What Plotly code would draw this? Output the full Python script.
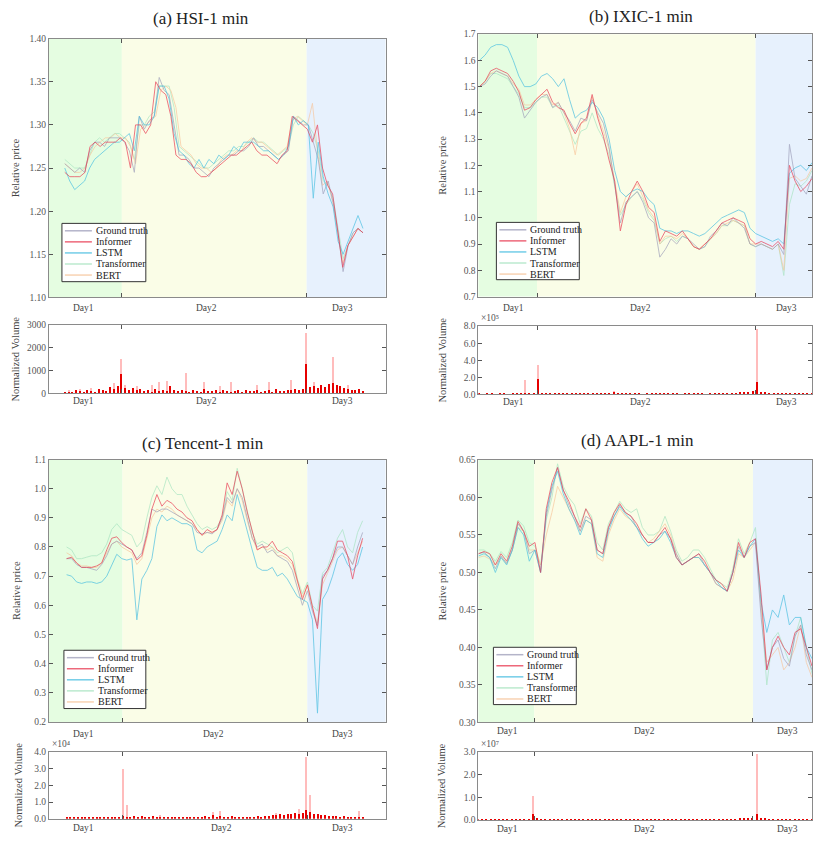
import numpy as np
import plotly.graph_objects as go

W, H = 813, 843
FONT = "Liberation Serif, Times New Roman, serif"

SERIES_NAMES = ["Ground truth", "Informer", "LSTM", "Transformer", "BERT"]
SERIES_COLORS = ["#9c9cb8", "#e8364e", "#45bde0", "#a6e3bf", "#f7c49a"]
DRAW_ORDER = [3, 4, 0, 2, 1]
DAY_LABELS = ["Day1", "Day2", "Day3"]

# ---------------- (a) HSI-1 min ----------------
hsi_truth = [1.255, 1.25, 1.245, 1.25, 1.245, 1.27, 1.28, 1.28, 1.275, 1.285,
             1.285, 1.285, 1.28, 1.27, 1.245, 1.31, 1.295, 1.305, 1.31, 1.355,
             1.34, 1.335, 1.30, 1.265, 1.265, 1.26, 1.25, 1.25, 1.245, 1.24,
             1.25, 1.255, 1.26, 1.265, 1.265, 1.27, 1.27, 1.275, 1.285, 1.275,
             1.275, 1.27, 1.265, 1.26, 1.265, 1.27, 1.31, 1.305, 1.30, 1.30,
             1.28, 1.26, 1.22, 1.235, 1.21, 1.175, 1.13, 1.16, 1.175, 1.18, 1.175]
hsi_informer = [1.245, 1.24, 1.24, 1.24, 1.245, 1.275, 1.28, 1.275, 1.28, 1.28,
                1.28, 1.285, 1.28, 1.25, 1.30, 1.30, 1.29, 1.30, 1.35, 1.34,
                1.335, 1.31, 1.265, 1.26, 1.26, 1.255, 1.245, 1.24, 1.24, 1.245,
                1.25, 1.255, 1.26, 1.265, 1.265, 1.27, 1.275, 1.28, 1.27, 1.265,
                1.265, 1.26, 1.255, 1.265, 1.27, 1.31, 1.305, 1.30, 1.295, 1.28,
                1.30, 1.25, 1.23, 1.22, 1.18, 1.135, 1.16, 1.17, 1.18, 1.175]
hsi_lstm = [1.25, 1.235, 1.225, 1.23, 1.235, 1.25, 1.26, 1.265, 1.27, 1.275,
            1.28, 1.28, 1.285, 1.29, 1.27, 1.31, 1.30, 1.30, 1.31, 1.345,
            1.345, 1.33, 1.29, 1.27, 1.265, 1.255, 1.25, 1.26, 1.25, 1.26,
            1.255, 1.265, 1.26, 1.265, 1.275, 1.27, 1.28, 1.28, 1.28, 1.275,
            1.27, 1.27, 1.265, 1.26, 1.265, 1.275, 1.31, 1.30, 1.305, 1.30,
            1.215, 1.28, 1.24, 1.22, 1.205, 1.165, 1.15, 1.165, 1.18, 1.195, 1.18]
hsi_transformer = [1.26, 1.255, 1.25, 1.25, 1.25, 1.265, 1.28, 1.285, 1.28, 1.285,
                   1.29, 1.29, 1.285, 1.28, 1.26, 1.30, 1.30, 1.31, 1.315, 1.345,
                   1.345, 1.345, 1.32, 1.275, 1.27, 1.265, 1.26, 1.255, 1.25, 1.25,
                   1.255, 1.26, 1.265, 1.27, 1.27, 1.275, 1.275, 1.28, 1.285, 1.28,
                   1.28, 1.275, 1.27, 1.265, 1.27, 1.275, 1.30, 1.31, 1.305, 1.30,
                   1.29, 1.27, 1.235, 1.23, 1.215, 1.18, 1.145, 1.16, 1.175, 1.18, 1.175]
hsi_bert = [1.255, 1.25, 1.245, 1.245, 1.25, 1.265, 1.275, 1.28, 1.285, 1.285,
            1.29, 1.285, 1.285, 1.275, 1.255, 1.295, 1.30, 1.305, 1.31, 1.34,
            1.345, 1.34, 1.32, 1.275, 1.27, 1.265, 1.255, 1.25, 1.25, 1.245,
            1.25, 1.26, 1.265, 1.265, 1.27, 1.27, 1.28, 1.285, 1.28, 1.28,
            1.275, 1.27, 1.265, 1.27, 1.275, 1.305, 1.31, 1.305, 1.30, 1.325,
            1.27, 1.23, 1.235, 1.21, 1.175, 1.14, 1.16, 1.17, 1.18, 1.175]
hsi_volume = [30, 60, 40, 120, 80, 50, 150, 90, 60, 200, 120, 80, 260, 180, 300, 850,
              250, 140, 220, 120, 180, 90, 150, 70, 200, 110, 140, 80, 300, 120, 90, 160,
              100, 70, 130, 90, 60, 180, 100, 80, 120, 60, 150, 90, 70, 110, 140, 60,
              120, 80, 100, 150, 70, 90, 130, 60, 200, 110, 80, 140, 120, 180, 150, 200,
              1300, 260, 300, 220, 350, 280, 400, 470, 350, 300, 250, 200, 150, 120, 180, 100]
hsi_volume_peak = [0, 150, 0, 0, 180, 0, 0, 250, 0, 0, 0, 0, 0, 450, 0, 1500,
                   380, 0, 0, 330, 0, 0, 0, 350, 0, 480, 0, 550, 0, 0, 0, 0,
                   900, 0, 0, 0, 0, 480, 0, 0, 0, 300, 0, 0, 480, 0, 0, 0,
                   0, 0, 0, 380, 0, 0, 480, 0, 0, 0, 0, 0, 600, 0, 0, 0,
                   2650, 0, 480, 0, 0, 0, 0, 1580, 0, 0, 0, 350, 0, 0, 0, 0]

# ---------------- (b) IXIC-1 min ----------------
ixic_truth = [1.50, 1.51, 1.54, 1.56, 1.55, 1.54, 1.50, 1.46, 1.38, 1.41,
              1.44, 1.46, 1.47, 1.42, 1.44, 1.40, 1.37, 1.33, 1.38, 1.37,
              1.45, 1.40, 1.36, 1.27, 1.12, 0.98, 1.06, 1.08, 1.10, 1.06,
              1.00, 0.98, 0.85, 0.88, 0.92, 0.90, 0.93, 0.92, 0.90, 0.88,
              0.89, 0.93, 0.95, 0.98, 0.97, 1.00, 0.98, 0.96, 0.90, 0.89,
              0.90, 0.89, 0.88, 0.90, 0.86, 1.28, 1.15, 1.12, 1.09, 1.16]
ixic_informer = [1.50, 1.52, 1.56, 1.57, 1.56, 1.55, 1.52, 1.48, 1.41, 1.42,
                 1.45, 1.47, 1.49, 1.44, 1.42, 1.41, 1.36, 1.32, 1.36, 1.38,
                 1.47, 1.38, 1.31, 1.22, 1.14, 0.95, 1.05, 1.10, 1.14, 1.10,
                 1.04, 1.02, 0.91, 0.95, 0.94, 0.93, 0.95, 0.92, 0.89, 0.88,
                 0.90, 0.92, 0.95, 0.98, 0.99, 1.00, 0.99, 0.98, 0.92, 0.90,
                 0.91, 0.90, 0.89, 0.91, 0.88, 1.20, 1.14, 1.10, 1.12, 1.15]
ixic_lstm = [1.60, 1.62, 1.65, 1.66, 1.66, 1.65, 1.60, 1.54, 1.50, 1.50,
             1.51, 1.54, 1.55, 1.53, 1.50, 1.53, 1.45, 1.38, 1.40, 1.41,
             1.44, 1.42, 1.38, 1.30, 1.18, 1.10, 1.08, 1.10, 1.11, 1.10,
             1.07, 1.05, 0.96, 0.95, 0.95, 0.94, 0.95, 0.95, 0.94, 0.93,
             0.94, 0.96, 0.98, 1.00, 1.01, 1.02, 1.03, 1.02, 0.96, 0.94,
             0.93, 0.92, 0.91, 0.92, 0.90, 1.17, 1.19, 1.20, 1.18, 1.21]
ixic_transformer = [1.50, 1.52, 1.55, 1.55, 1.54, 1.53, 1.50, 1.47, 1.42, 1.42,
                    1.44, 1.46, 1.46, 1.42, 1.43, 1.38, 1.33, 1.28, 1.33, 1.34,
                    1.40, 1.34, 1.30, 1.24, 1.12, 1.01, 1.05, 1.08, 1.10, 1.07,
                    1.02, 0.99, 0.90, 0.92, 0.93, 0.91, 0.93, 0.92, 0.89, 0.88,
                    0.89, 0.92, 0.94, 0.97, 0.97, 0.99, 0.98, 0.97, 0.90, 0.89,
                    0.90, 0.89, 0.88, 0.90, 0.78, 1.05, 1.13, 1.12, 1.14, 1.18]
ixic_bert = [1.50, 1.52, 1.55, 1.56, 1.55, 1.54, 1.51, 1.49, 1.43, 1.43,
             1.45, 1.47, 1.47, 1.43, 1.44, 1.40, 1.34, 1.24, 1.36, 1.37,
             1.46, 1.39, 1.33, 1.26, 1.14, 1.02, 1.08, 1.10, 1.13, 1.08,
             1.03, 1.00, 0.90, 0.93, 0.93, 0.92, 0.94, 0.92, 0.89, 0.88,
             0.90, 0.92, 0.94, 0.97, 0.98, 0.99, 0.98, 0.97, 0.90, 0.90,
             0.90, 0.89, 0.88, 0.90, 0.80, 1.15, 1.16, 1.14, 1.15, 1.19]
ixic_volume = [3000, 2000, 4000, 3000, 2000, 5000, 3000, 2000, 4000, 3000, 5000, 6000,
               4000, 12000, 180000, 15000, 10000, 8000, 12000, 9000, 14000, 11000, 16000, 13000,
               9000, 7000, 12000, 5000, 4000, 6000, 8000, 5000, 30000, 6000, 4000, 3000,
               5000, 4000, 3000, 2000, 4000, 3000, 5000, 4000, 3000, 6000, 4000, 3000,
               2000, 4000, 3000, 5000, 3000, 4000, 2000, 3000, 6000, 4000, 5000, 8000,
               10000, 14000, 20000, 25000, 30000, 35000, 140000, 25000, 20000, 15000, 12000, 10000,
               9000, 8000, 12000, 7000, 6000, 5000, 4000, 6000]
ixic_volume_peak = [0, 0, 0, 0, 0, 0, 0, 0, 0, 0, 0, 170000,
                    0, 0, 340000, 0, 0, 0, 0, 0, 0, 0, 0, 0,
                    0, 0, 0, 0, 0, 0, 0, 0, 40000, 0, 0, 0,
                    0, 0, 0, 0, 0, 0, 0, 0, 0, 0, 0, 0,
                    0, 0, 0, 0, 0, 0, 0, 0, 0, 0, 0, 0,
                    0, 0, 0, 0, 0, 0, 760000, 0, 0, 0, 0, 0,
                    0, 0, 0, 0, 0, 0, 0, 0]

# ---------------- (c) Tencent-1 min ----------------
tencent_truth = [0.76, 0.76, 0.74, 0.73, 0.73, 0.725, 0.72, 0.74, 0.77, 0.81,
                 0.82, 0.81, 0.80, 0.79, 0.76, 0.78, 0.85, 0.93, 0.92, 0.93,
                 0.93, 0.92, 0.91, 0.90, 0.89, 0.88, 0.85, 0.845, 0.85, 0.845,
                 0.86, 0.90, 0.97, 0.95, 1.00, 0.97, 0.90, 0.83, 0.80, 0.81,
                 0.78, 0.79, 0.77, 0.76, 0.75, 0.72, 0.66, 0.60, 0.65, 0.58,
                 0.53, 0.70, 0.72, 0.76, 0.80, 0.80, 0.77, 0.74, 0.80, 0.85]
tencent_informer = [0.76, 0.765, 0.745, 0.73, 0.73, 0.73, 0.735, 0.745, 0.79, 0.83,
                    0.835, 0.815, 0.80, 0.79, 0.755, 0.77, 0.84, 0.93, 0.98, 0.94,
                    0.96, 0.95, 0.93, 0.92, 0.90, 0.89, 0.86, 0.84, 0.86, 0.85,
                    0.86, 0.91, 1.02, 0.98, 1.06, 1.00, 0.92, 0.85, 0.79, 0.80,
                    0.80, 0.82, 0.79, 0.78, 0.77, 0.75, 0.68, 0.62, 0.67, 0.60,
                    0.52, 0.69, 0.72, 0.76, 0.82, 0.82, 0.77, 0.69, 0.77, 0.83]
tencent_lstm = [0.705, 0.70, 0.68, 0.675, 0.68, 0.68, 0.675, 0.68, 0.70, 0.74,
                0.775, 0.76, 0.755, 0.76, 0.55, 0.69, 0.72, 0.76, 0.87, 0.91,
                0.89, 0.90, 0.89, 0.88, 0.88, 0.87, 0.79, 0.78, 0.80, 0.81,
                0.82, 0.86, 0.91, 0.89, 0.98, 0.92, 0.85, 0.79, 0.73, 0.72,
                0.72, 0.73, 0.70, 0.71, 0.69, 0.66, 0.63, 0.62, 0.61, 0.55,
                0.23, 0.62, 0.65, 0.70, 0.76, 0.78, 0.74, 0.72, 0.74, 0.80]
tencent_transformer = [0.80, 0.79, 0.76, 0.76, 0.765, 0.77, 0.77, 0.78, 0.81, 0.86,
                       0.88, 0.86, 0.85, 0.84, 0.80, 0.82, 0.90, 0.97, 1.01, 0.98,
                       1.04, 1.00, 0.98, 0.98, 0.94, 0.91, 0.88, 0.86, 0.87, 0.86,
                       0.87, 0.90, 0.99, 0.96, 1.07, 1.00, 0.93, 0.85, 0.81, 0.82,
                       0.81, 0.80, 0.78, 0.79, 0.80, 0.78, 0.69, 0.64, 0.68, 0.60,
                       0.58, 0.71, 0.73, 0.78, 0.83, 0.86, 0.80, 0.78, 0.85, 0.89]
tencent_bert = [0.78, 0.77, 0.745, 0.735, 0.735, 0.73, 0.73, 0.745, 0.78, 0.81,
                0.82, 0.80, 0.79, 0.78, 0.74, 0.76, 0.83, 0.90, 0.93, 0.92,
                0.94, 0.93, 0.91, 0.90, 0.89, 0.88, 0.86, 0.84, 0.85, 0.85,
                0.86, 0.89, 0.96, 0.94, 1.00, 0.96, 0.89, 0.83, 0.79, 0.80,
                0.79, 0.80, 0.77, 0.77, 0.76, 0.74, 0.68, 0.63, 0.67, 0.59,
                0.54, 0.67, 0.71, 0.75, 0.79, 0.80, 0.77, 0.74, 0.78, 0.82]
tencent_volume = [500, 800, 600, 700, 900, 600, 800, 1000, 700, 900, 1100, 800, 1000, 1200, 1100, 1500,
                  1300, 1000, 1400, 1200, 1600, 1100, 1300, 1500, 1000, 1200, 900, 1100, 800, 1000, 1300, 900,
                  1200, 1000, 800, 1100, 900, 1400, 1200, 2000, 1300, 1800, 1200, 1000, 1400, 1100, 900, 1300,
                  1000, 1200, 1100, 1500, 1300, 1700, 1600, 2000, 2400, 2800, 2500, 3000, 2600, 3200, 2800, 3500,
                  5000, 4000, 3000, 2600, 2400, 2000, 1800, 1600, 1400, 1200, 1500, 1000, 1200, 900, 1100, 800]
tencent_volume_peak = [0, 0, 0, 0, 0, 0, 0, 0, 0, 0, 0, 0, 0, 0, 0, 30000,
                       8000, 0, 0, 0, 0, 0, 0, 0, 0, 2500, 0, 0, 0, 0, 0, 0,
                       0, 0, 0, 0, 0, 0, 0, 4000, 0, 4500, 0, 0, 0, 0, 0, 0,
                       0, 0, 0, 0, 0, 0, 0, 0, 3500, 0, 0, 0, 0, 0, 6000, 0,
                       37000, 14000, 0, 0, 0, 0, 0, 0, 0, 0, 0, 0, 0, 0, 4500, 0]

# ---------------- (d) AAPL-1 min ----------------
aapl_truth = [0.525, 0.527, 0.52, 0.505, 0.522, 0.512, 0.53, 0.565, 0.555, 0.525,
              0.53, 0.50, 0.575, 0.61, 0.64, 0.61, 0.59, 0.575, 0.555, 0.575,
              0.57, 0.53, 0.525, 0.56, 0.575, 0.59, 0.58, 0.575, 0.56, 0.55,
              0.54, 0.54, 0.55, 0.555, 0.545, 0.525, 0.51, 0.515, 0.52, 0.525,
              0.51, 0.50, 0.485, 0.48, 0.475, 0.50, 0.535, 0.52, 0.535, 0.54,
              0.44, 0.37, 0.40, 0.41, 0.385, 0.375, 0.415, 0.43, 0.39, 0.37]
aapl_informer = [0.525, 0.528, 0.525, 0.51, 0.525, 0.515, 0.535, 0.568, 0.555, 0.535,
                 0.54, 0.50, 0.585, 0.62, 0.64, 0.61, 0.595, 0.575, 0.56, 0.585,
                 0.57, 0.53, 0.525, 0.56, 0.58, 0.592, 0.58, 0.575, 0.565, 0.55,
                 0.54, 0.54, 0.55, 0.56, 0.545, 0.52, 0.51, 0.515, 0.52, 0.525,
                 0.515, 0.50, 0.49, 0.485, 0.475, 0.50, 0.54, 0.52, 0.54, 0.545,
                 0.47, 0.37, 0.40, 0.415, 0.40, 0.39, 0.42, 0.425, 0.40, 0.375]
aapl_lstm = [0.522, 0.525, 0.52, 0.50, 0.52, 0.51, 0.53, 0.56, 0.55, 0.515,
             0.53, 0.50, 0.58, 0.615, 0.635, 0.605, 0.585, 0.57, 0.55, 0.57,
             0.565, 0.525, 0.52, 0.555, 0.575, 0.588, 0.578, 0.57, 0.56, 0.545,
             0.535, 0.54, 0.545, 0.555, 0.54, 0.52, 0.51, 0.515, 0.52, 0.52,
             0.51, 0.50, 0.49, 0.48, 0.475, 0.50, 0.53, 0.52, 0.535, 0.545,
             0.46, 0.42, 0.45, 0.44, 0.47, 0.43, 0.44, 0.44, 0.40, 0.385]
aapl_transformer = [0.53, 0.53, 0.525, 0.515, 0.528, 0.52, 0.54, 0.57, 0.562, 0.54,
                    0.535, 0.51, 0.57, 0.60, 0.645, 0.615, 0.60, 0.59, 0.565, 0.585,
                    0.575, 0.54, 0.53, 0.565, 0.58, 0.595, 0.585, 0.58, 0.585, 0.56,
                    0.55, 0.55, 0.555, 0.575, 0.555, 0.53, 0.515, 0.52, 0.53, 0.53,
                    0.52, 0.505, 0.49, 0.485, 0.48, 0.505, 0.545, 0.525, 0.54, 0.56,
                    0.46, 0.35, 0.41, 0.42, 0.40, 0.38, 0.415, 0.44, 0.40, 0.365]
aapl_bert = [0.52, 0.522, 0.518, 0.51, 0.52, 0.512, 0.53, 0.56, 0.555, 0.53,
             0.53, 0.51, 0.55, 0.58, 0.615, 0.60, 0.585, 0.57, 0.555, 0.57,
             0.565, 0.52, 0.515, 0.55, 0.57, 0.585, 0.575, 0.57, 0.56, 0.55,
             0.54, 0.545, 0.555, 0.565, 0.55, 0.525, 0.51, 0.515, 0.52, 0.52,
             0.51, 0.50, 0.485, 0.48, 0.475, 0.49, 0.525, 0.52, 0.53, 0.54,
             0.45, 0.38, 0.39, 0.40, 0.37, 0.38, 0.40, 0.43, 0.38, 0.36]
aapl_volume = [200000, 250000, 180000, 220000, 300000, 200000, 250000, 180000, 220000, 260000,
               200000, 240000, 300000, 2500000, 400000, 300000, 250000, 200000, 220000, 180000,
               260000, 200000, 240000, 220000, 180000, 200000, 260000, 220000, 200000, 180000,
               240000, 200000, 220000, 260000, 200000, 180000, 220000, 240000, 200000, 260000,
               220000, 180000, 200000, 240000, 220000, 200000, 180000, 260000, 220000, 200000,
               240000, 180000, 220000, 200000, 260000, 240000, 200000, 220000, 180000, 300000,
               260000, 350000, 400000, 600000, 800000, 900000, 2500000, 700000, 400000, 300000,
               260000, 220000, 200000, 240000, 180000, 220000, 200000, 260000, 200000, 180000]
aapl_volume_peak = [0, 0, 0, 0, 0, 0, 0, 0, 0, 0,
                    0, 0, 0, 10500000, 0, 0, 0, 0, 0, 0,
                    0, 0, 0, 0, 0, 0, 0, 0, 0, 0,
                    0, 0, 0, 0, 0, 0, 0, 0, 0, 0,
                    0, 0, 0, 0, 0, 0, 0, 0, 0, 0,
                    0, 0, 0, 0, 0, 0, 0, 0, 0, 0,
                    0, 0, 0, 0, 0, 0, 29000000, 0, 0, 0,
                    0, 0, 0, 0, 0, 0, 0, 0, 0, 0]

# ---------------- layout description (pixels) ----------------
panels = [
    dict(title="(a) HSI-1 min", title_pos=(201, 14),
         series=[hsi_truth, hsi_informer, hsi_lstm, hsi_transformer, hsi_bert],
         vol=hsi_volume, vol_peak=hsi_volume_peak,
         price_box=(49, 386, 34, 296), vol_box=(49, 386, 324, 393),
         span=(0.047, 0.933), bounds=(0.2166, 0.7656),
         yrange=(1.10, 1.40), ytick=[1.10, 1.15, 1.20, 1.25, 1.30, 1.35, 1.40], yfmt="%.2f",
         vrange=3000, vticks=[0, 1000, 2000, 3000], vtext=["0", "1000", "2000", "3000"], vexp=None,
         day_price=((84, 207, 343), 307), day_vol=((84, 207, 343), 401),
         legend_box=(62, 221, 146, 280), standoff=(7, 5)),
    dict(title="(b) IXIC-1 min", title_pos=(642, 12),
         series=[ixic_truth, ixic_informer, ixic_lstm, ixic_transformer, ixic_bert],
         vol=ixic_volume, vol_peak=ixic_volume_peak,
         price_box=(479, 813, 29.5, 295), vol_box=(479, 813, 325, 394),
         span=(0.003, 1.0), bounds=(0.1757, 0.831),
         yrange=(0.7, 1.7), ytick=[0.7, 0.8, 0.9, 1.0, 1.1, 1.2, 1.3, 1.4, 1.5, 1.6, 1.7], yfmt="%.1f",
         vrange=8e5, vticks=[0, 2e5, 4e5, 6e5, 8e5], vtext=["0.0", "2.0", "4.0", "6.0", "8.0"], vexp="\u2075",
         day_price=((514, 641, 787), 307), day_vol=((514, 641, 787), 402),
         legend_box=(497, 220, 580, 278), standoff=(14, 14)),
    dict(title="(c) Tencent-1 min", title_pos=(203, 444),
         series=[tencent_truth, tencent_informer, tencent_lstm, tencent_transformer, tencent_bert],
         vol=tencent_volume, vol_peak=tencent_volume_peak,
         price_box=(49, 386, 460, 725.5), vol_box=(49, 386, 756, 823.5),
         span=(0.0524, 0.932), bounds=(0.2186, 0.7676),
         yrange=(0.2, 1.1), ytick=[0.2, 0.3, 0.4, 0.5, 0.6, 0.7, 0.8, 0.9, 1.0, 1.1], yfmt="%.1f",
         vrange=4e4, vticks=[0, 1e4, 2e4, 3e4, 4e4], vtext=["0.0", "1.0", "2.0", "3.0", "4.0"], vexp="\u2074",
         day_price=((84, 214, 343), 738), day_vol=((84, 222, 343), 833),
         legend_box=(64, 653, 146, 712), standoff=(11, 9)),
    dict(title="(d) AAPL-1 min", title_pos=(638, 441),
         series=[aapl_truth, aapl_informer, aapl_lstm, aapl_transformer, aapl_bert],
         vol=aapl_volume, vol_peak=aapl_volume_peak,
         price_box=(479, 813, 460.5, 726), vol_box=(479, 813, 756, 824.7),
         span=(0.0, 1.0), bounds=(0.1677, 0.823),
         yrange=(0.30, 0.65), ytick=[0.30, 0.35, 0.40, 0.45, 0.50, 0.55, 0.60, 0.65], yfmt="%.2f",
         vrange=3e7, vticks=[0, 1e7, 2e7, 3e7], vtext=["0.0", "1.0", "2.0", "3.0"], vexp="\u2077",
         day_price=((508, 645, 788), 735), day_vol=((508, 645, 788), 834),
         legend_box=(494, 650, 577, 708), standoff=(10, 15)),
]

REGION_COLORS = ["#e5fde1", "#fafde7", "#e7f1fd"]
AXIS_COLOR = "#8a8a8a"
TICK_FONT = dict(family=FONT, size=9.5, color="#555555")
LABEL_FONT = dict(family=FONT, size=10.5, color="#444444")
LEGEND_ROW = 11.2


def px_x(p):
    return p / W


def px_y(p):
    return 1 - p / H


def sfx(n):
    return "" if n == 1 else str(n)


fig = go.Figure()
layout = dict(width=W, height=H, margin=dict(l=0, r=0, t=0, b=0),
              paper_bgcolor="white", plot_bgcolor="white", showlegend=False,
              font=dict(family=FONT), barmode="overlay", bargap=0)
shapes, annotations = [], []

for pi, p in enumerate(panels):
    ax_p = 2 * pi + 1
    ax_v = 2 * pi + 2
    f0, f1 = p["span"]
    r0 = -f0 / (f1 - f0)
    r1 = (1 - f0) / (f1 - f0)
    bvals = [r0 + b * (r1 - r0) for b in p["bounds"]]

    for ax, box in ((ax_p, p["price_box"]), (ax_v, p["vol_box"])):
        l, r, t, b = box
        layout["xaxis" + sfx(ax)] = dict(
            domain=[px_x(l), min(1.0, px_x(r))], range=[r0, r1], anchor="y" + sfx(ax),
            showgrid=False, zeroline=False, showline=True, linecolor=AXIS_COLOR,
            linewidth=1, mirror="ticks", ticks="inside", ticklen=4, tickcolor="#555",
            tickvals=bvals, showticklabels=False)

    l, r, t, b = p["price_box"]
    layout["yaxis" + sfx(ax_p)] = dict(
        domain=[px_y(b), px_y(t)], range=list(p["yrange"]), anchor="x" + sfx(ax_p),
        showgrid=False, zeroline=False, showline=True, linecolor=AXIS_COLOR, linewidth=1,
        mirror="ticks", ticks="inside", ticklen=4, tickcolor="#555",
        tickvals=p["ytick"], ticktext=[p["yfmt"] % v for v in p["ytick"]],
        tickfont=TICK_FONT, title=dict(text="Relative price", font=LABEL_FONT, standoff=p["standoff"][0]))
    l, r, t, b = p["vol_box"]
    layout["yaxis" + sfx(ax_v)] = dict(
        domain=[px_y(b), px_y(t)], range=[0, p["vrange"]], anchor="x" + sfx(ax_v),
        showgrid=False, zeroline=False, showline=True, linecolor=AXIS_COLOR, linewidth=1,
        mirror="ticks", ticks="inside", ticklen=4, tickcolor="#555",
        tickvals=p["vticks"], ticktext=p["vtext"], tickfont=TICK_FONT,
        title=dict(text="Normalized Volume", font=LABEL_FONT, standoff=p["standoff"][1]))

    edges = [0.0, p["bounds"][0], p["bounds"][1], 1.0]
    for k in range(3):
        shapes.append(dict(type="rect", xref="x%s domain" % sfx(ax_p), yref="y%s domain" % sfx(ax_p),
                           x0=edges[k], x1=edges[k + 1], y0=0, y1=1, fillcolor=REGION_COLORS[k],
                           line=dict(width=0), layer="below"))

    for si in DRAW_ORDER:
        vals = p["series"][si]
        t = np.linspace(0, 1, len(vals))
        fig.add_trace(go.Scatter(x=t, y=vals, mode="lines", name=SERIES_NAMES[si],
                                 line=dict(color=SERIES_COLORS[si], width=0.9), opacity=0.75,
                                 xaxis="x" + sfx(ax_p), yaxis="y" + sfx(ax_p), showlegend=False))

    nv = len(p["vol"])
    tv = np.linspace(0, 1, nv)
    bw = 0.28 / (nv - 1)
    fig.add_trace(go.Bar(x=tv, y=p["vol_peak"], width=bw, marker=dict(color="#ffbcbc", line=dict(width=0)),
                         xaxis="x" + sfx(ax_v), yaxis="y" + sfx(ax_v), showlegend=False, name="Volume peak"))
    fig.add_trace(go.Bar(x=tv, y=p["vol"], width=bw, marker=dict(color="#e60000", line=dict(width=0)),
                         xaxis="x" + sfx(ax_v), yaxis="y" + sfx(ax_v), showlegend=False, name="Volume"))

    tx, ty = p["title_pos"]
    annotations.append(dict(text=p["title"], x=px_x(tx), y=px_y(ty), xref="paper", yref="paper",
                            showarrow=False, xanchor="center", yanchor="middle",
                            font=dict(family=FONT, size=17, color="#222")))
    for (xs, yy) in (p["day_price"], p["day_vol"]):
        for name, xx in zip(DAY_LABELS, xs):
            annotations.append(dict(text=name, x=px_x(xx), y=px_y(yy), xref="paper", yref="paper",
                                    showarrow=False, xanchor="center", yanchor="middle",
                                    font=dict(family=FONT, size=9.5, color="#444")))
    if p["vexp"]:
        l, r, t, b = p["vol_box"]
        annotations.append(dict(text="\u00d710" + p["vexp"], x=px_x(l + 1), y=px_y(t - 1),
                                xref="paper", yref="paper", showarrow=False, xanchor="left",
                                yanchor="bottom", font=dict(family=FONT, size=9.5, color="#555")))
    lx0, ly0, lx1, ly1 = p["legend_box"]
    shapes.append(dict(type="rect", xref="paper", yref="paper", x0=px_x(lx0), x1=px_x(lx1),
                       y0=px_y(ly1), y1=px_y(ly0), fillcolor="white",
                       line=dict(color="#333", width=1), layer="above"))
    for k, name in enumerate(SERIES_NAMES):
        yy = ly0 + 7.5 + k * LEGEND_ROW
        shapes.append(dict(type="line", xref="paper", yref="paper", x0=px_x(lx0 + 3), x1=px_x(lx0 + 30),
                           y0=px_y(yy), y1=px_y(yy), line=dict(color=SERIES_COLORS[k], width=1.5),
                           opacity=0.75, layer="above"))
        annotations.append(dict(text=name, x=px_x(lx0 + 32), y=px_y(yy), xref="paper", yref="paper",
                                showarrow=False, xanchor="left", yanchor="middle",
                                font=dict(family=FONT, size=10, color="#222")))

layout["shapes"] = shapes
layout["annotations"] = annotations
fig.update_layout(**layout)
fig.write_html("out.html", config={"displayModeBar": False},
               post_script="document.body.style.margin='0';document.body.style.padding='0';"
                           "document.documentElement.style.overflow='hidden';")
